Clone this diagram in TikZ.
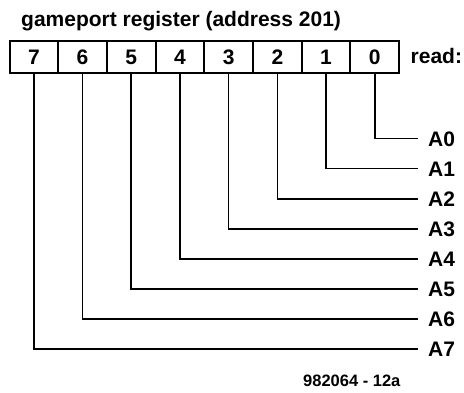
\documentclass[tikz,border=0pt]{standalone}
\usepackage{fontspec}
\setmainfont{Liberation Sans}
\begin{document}
\begin{tikzpicture}[x=1pt,y=-1pt,
  big/.style={font=\fontsize{21}{25}\selectfont\bfseries},
  bitcell/.style={big,draw,line width=2pt,minimum width=48.7pt,minimum height=32pt,
    text height=15pt,text depth=0pt,inner sep=0pt,anchor=north west},
  sig/.style={big,anchor=west,inner xsep=10pt,inner ysep=0pt,
    text height=15pt,text depth=0pt},
  wire/.style={line width=1.6pt},
  caption/.style={anchor=base west,inner sep=0pt}]
  \useasboundingbox (0,0) rectangle (464,392);
  % title
  \node[caption,big] (title) at (21,26) {gameport register (address 201)};
  % register cells, bit 7 on the left
  \foreach \b [count=\i from 0] in {7,6,5,4,3,2,1,0}
    \node[bitcell] (b\b) at (8.5+48.7*\i,40) {\b};
  \node[caption,big] (read) at (410.5,63.5) {read:};
  % signal lines from each bit to its label
  \foreach \b in {0,...,7} {
    \node[sig] (A\b) at (418,138.5+30.1*\b) {A\b};
    \draw[wire] (b\b.south) |- (A\b.west);
  }
  % figure number
  \node[caption,font=\fontsize{16.5}{19}\selectfont\bfseries] (fig) at (303,386) {982064 - 12a};
\end{tikzpicture}
\end{document}
